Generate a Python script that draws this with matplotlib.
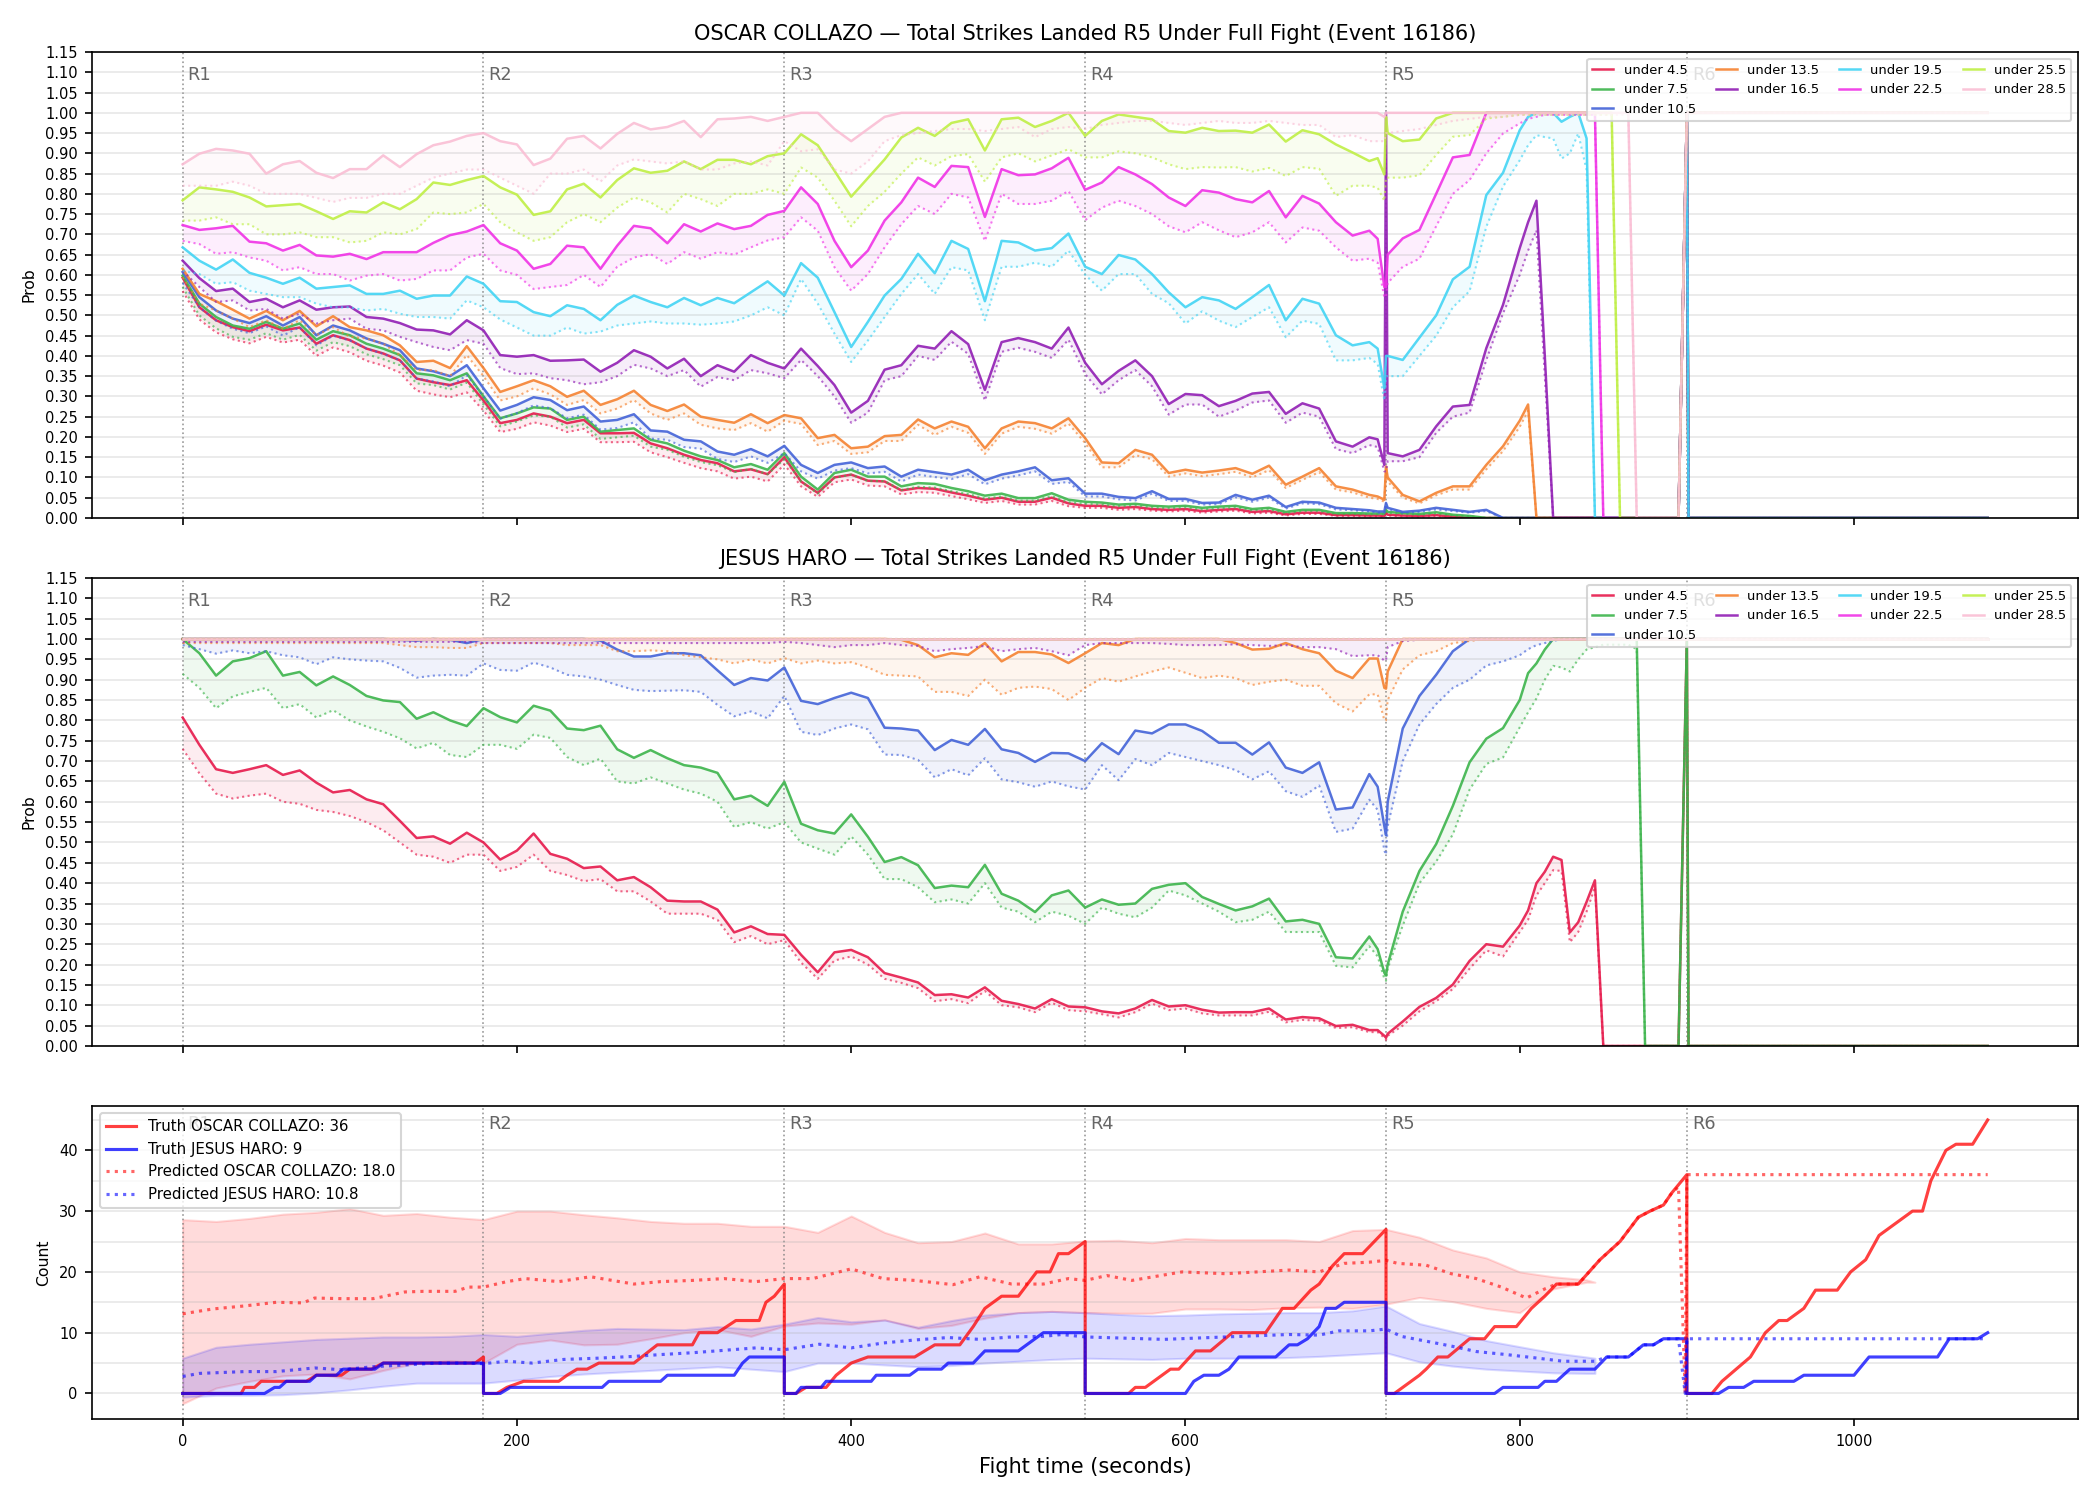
import numpy as np
import matplotlib.pyplot as plt
from matplotlib.ticker import MultipleLocator, FormatStrFormatter

# sample times (s) shared by the probability curves
T_GRID = (list(range(0, 701, 10)) + [710, 715, 719, 720, 721]
          + list(range(730, 801, 10)) + list(range(805, 896, 5)) + [900, 901, 1080])

LINE_NAMES = ["under 4.5", "under 7.5", "under 10.5", "under 13.5", "under 16.5",
              "under 19.5", "under 22.5", "under 25.5", "under 28.5"]
LINE_COLORS = ["#e6194b", "#3cb44b", "#4363d8", "#f58231", "#911eb4",
               "#42d4f4", "#f032e6", "#bfef45", "#fabed4"]
ROUND_STARTS = [0, 180, 360, 540, 720, 900]
ROUND_LABELS = ["R1", "R2", "R3", "R4", "R5", "R6"]

# ---------------- OSCAR COLLAZO (top panel) ----------------
OC_45 = [0.593, 0.52, 0.488, 0.471, 0.461, 0.477, 0.463, 0.47, 0.43, 0.451, 0.439, 0.418, 0.406, 0.389, 0.344, 0.335, 0.328, 0.34,
         0.29, 0.234, 0.242, 0.258, 0.25, 0.234, 0.242, 0.209, 0.209, 0.21, 0.184, 0.172, 0.156, 0.143, 0.135, 0.115, 0.12, 0.108,
         0.15, 0.09, 0.062, 0.10, 0.107, 0.092, 0.09, 0.068, 0.074, 0.072, 0.063, 0.055, 0.045, 0.05, 0.04, 0.04, 0.05, 0.036,
         0.03, 0.03, 0.025, 0.027, 0.022, 0.02, 0.022, 0.017, 0.02, 0.022, 0.015, 0.017, 0.009, 0.013, 0.013, 0.007, 0.007,
         0.006, 0.006, 0.005, 0.012, 0.008,
         0.006, 0.005, 0.007, 0.003, 0, 0, 0, 0,
         0, 0, 0, 0, 0, 0, 0, 0, 0, 0, 0, 0, 0, 0, 0, 0, 0, 0, 0,
         1.0, 0, 0]
OC_45_LO = [0.56, 0.49, 0.458, 0.441, 0.431, 0.447, 0.433, 0.44, 0.40, 0.421, 0.409, 0.388, 0.376, 0.359, 0.314, 0.305, 0.298, 0.31,
            0.265, 0.212, 0.22, 0.236, 0.228, 0.212, 0.22, 0.187, 0.187, 0.188, 0.162, 0.15, 0.136, 0.123, 0.115, 0.097, 0.102, 0.09,
            0.132, 0.078, 0.052, 0.088, 0.095, 0.08, 0.078, 0.058, 0.064, 0.062, 0.054, 0.046, 0.037, 0.042, 0.033, 0.033, 0.042, 0.029,
            0.025, 0.025, 0.02, 0.022, 0.018, 0.016, 0.018, 0.013, 0.016, 0.018, 0.011, 0.013, 0.006, 0.01, 0.01, 0.005, 0.005,
            0.004, 0.004, 0.003, 0.01, 0.006,
            0.004, 0.003, 0.005, 0.002, 0, 0, 0, 0,
            0, 0, 0, 0, 0, 0, 0, 0, 0, 0, 0, 0, 0, 0, 0, 0, 0, 0, 0,
            1.0, 0, 0]
OC_75 = [0.598, 0.529, 0.496, 0.475, 0.467, 0.484, 0.467, 0.48, 0.44, 0.461, 0.451, 0.43, 0.418, 0.402, 0.357, 0.352, 0.34, 0.357,
         0.30, 0.246, 0.258, 0.273, 0.27, 0.242, 0.25, 0.213, 0.217, 0.221, 0.193, 0.184, 0.166, 0.152, 0.143, 0.125, 0.133, 0.119,
         0.16, 0.102, 0.07, 0.111, 0.119, 0.102, 0.102, 0.078, 0.086, 0.084, 0.074, 0.066, 0.055, 0.06, 0.049, 0.049, 0.061, 0.045,
         0.04, 0.038, 0.033, 0.035, 0.03, 0.028, 0.03, 0.025, 0.028, 0.03, 0.022, 0.025, 0.015, 0.02, 0.02, 0.012, 0.012,
         0.011, 0.011, 0.011, 0.02, 0.015,
         0.012, 0.01, 0.014, 0.008, 0.005, 0, 0, 0,
         0, 0, 0, 0, 0, 0, 0, 0, 0, 0, 0, 0, 0, 0, 0, 0, 0, 0, 0,
         1.0, 0, 0]
OC_75_LO = [0.57, 0.50, 0.468, 0.447, 0.44, 0.456, 0.44, 0.452, 0.413, 0.434, 0.424, 0.404, 0.392, 0.377, 0.332, 0.328, 0.317, 0.334,
            0.28, 0.226, 0.238, 0.253, 0.25, 0.223, 0.231, 0.195, 0.199, 0.203, 0.176, 0.168, 0.151, 0.138, 0.13, 0.113, 0.121, 0.108,
            0.145, 0.09, 0.06, 0.099, 0.107, 0.091, 0.091, 0.069, 0.077, 0.075, 0.066, 0.059, 0.048, 0.053, 0.043, 0.043, 0.054, 0.039,
            0.035, 0.033, 0.029, 0.031, 0.026, 0.024, 0.026, 0.021, 0.024, 0.026, 0.019, 0.021, 0.012, 0.017, 0.017, 0.01, 0.01,
            0.009, 0.009, 0.009, 0.017, 0.012,
            0.01, 0.008, 0.011, 0.006, 0.004, 0, 0, 0,
            0, 0, 0, 0, 0, 0, 0, 0, 0, 0, 0, 0, 0, 0, 0, 0, 0, 0, 0,
            1.0, 0, 0]
OC_105 = [0.607, 0.545, 0.512, 0.492, 0.481, 0.498, 0.475, 0.496, 0.451, 0.475, 0.463, 0.443, 0.43, 0.414, 0.369, 0.362, 0.35, 0.377,
          0.32, 0.265, 0.279, 0.298, 0.291, 0.266, 0.275, 0.238, 0.242, 0.256, 0.216, 0.213, 0.193, 0.189, 0.164, 0.156, 0.17, 0.152,
          0.178, 0.131, 0.111, 0.131, 0.137, 0.123, 0.127, 0.102, 0.119, 0.113, 0.107, 0.119, 0.093, 0.107, 0.115, 0.125, 0.093, 0.098,
          0.06, 0.06, 0.052, 0.049, 0.066, 0.047, 0.047, 0.037, 0.038, 0.057, 0.045, 0.055, 0.027, 0.04, 0.038, 0.025, 0.022,
          0.019, 0.016, 0.016, 0.037, 0.025,
          0.015, 0.018, 0.025, 0.02, 0.015, 0.02, 0, 0,
          0, 0, 0, 0, 0, 0, 0, 0, 0, 0, 0, 0, 0, 0, 0, 0, 0, 0, 0,
          1.0, 0, 0]
OC_105_LO = [0.58, 0.52, 0.487, 0.467, 0.456, 0.473, 0.45, 0.471, 0.426, 0.45, 0.438, 0.418, 0.405, 0.389, 0.344, 0.337, 0.325, 0.352,
             0.30, 0.245, 0.259, 0.278, 0.271, 0.246, 0.255, 0.218, 0.222, 0.236, 0.196, 0.193, 0.175, 0.171, 0.146, 0.138, 0.152, 0.136,
             0.16, 0.115, 0.097, 0.117, 0.123, 0.11, 0.114, 0.09, 0.107, 0.101, 0.096, 0.108, 0.083, 0.097, 0.105, 0.115, 0.084, 0.089,
             0.053, 0.053, 0.046, 0.043, 0.06, 0.042, 0.042, 0.033, 0.034, 0.051, 0.04, 0.05, 0.023, 0.036, 0.034, 0.021, 0.019,
             0.016, 0.013, 0.013, 0.033, 0.022,
             0.013, 0.015, 0.021, 0.017, 0.013, 0.017, 0, 0,
             0, 0, 0, 0, 0, 0, 0, 0, 0, 0, 0, 0, 0, 0, 0, 0, 0, 0, 0,
             1.0, 0, 0]
OC_135 = [0.615, 0.553, 0.535, 0.514, 0.492, 0.511, 0.488, 0.511, 0.473, 0.498, 0.471, 0.463, 0.451, 0.426, 0.385, 0.388, 0.37, 0.424,
          0.37, 0.311, 0.325, 0.34, 0.325, 0.299, 0.314, 0.279, 0.293, 0.314, 0.279, 0.264, 0.28, 0.25, 0.242, 0.235, 0.256, 0.234,
          0.254, 0.246, 0.197, 0.205, 0.172, 0.176, 0.202, 0.205, 0.243, 0.221, 0.238, 0.225, 0.172, 0.221, 0.238, 0.234, 0.221, 0.246,
          0.197, 0.137, 0.135, 0.168, 0.156, 0.111, 0.119, 0.112, 0.117, 0.123, 0.109, 0.129, 0.082, 0.102, 0.123, 0.078, 0.07,
          0.057, 0.053, 0.045, 0.127, 0.10,
          0.057, 0.041, 0.062, 0.078, 0.078, 0.131, 0.177, 0.24,
          0.28, 0, 0, 0, 0, 0, 0, 0, 0, 0, 0, 0, 0, 0, 0, 0, 0, 0, 0,
          1.0, 0, 0]
OC_135_LO = [0.594, 0.529, 0.512, 0.492, 0.471, 0.488, 0.467, 0.488, 0.451, 0.471, 0.447, 0.443, 0.43, 0.402, 0.365, 0.365, 0.35, 0.402,
             0.35, 0.29, 0.30, 0.32, 0.305, 0.279, 0.291, 0.258, 0.27, 0.291, 0.258, 0.242, 0.258, 0.23, 0.221, 0.217, 0.234, 0.213,
             0.24, 0.232, 0.18, 0.19, 0.158, 0.162, 0.19, 0.19, 0.23, 0.205, 0.225, 0.21, 0.158, 0.208, 0.225, 0.22, 0.208, 0.233,
             0.185, 0.125, 0.125, 0.155, 0.145, 0.102, 0.11, 0.103, 0.108, 0.114, 0.10, 0.118, 0.074, 0.094, 0.113, 0.07, 0.063,
             0.05, 0.047, 0.04, 0.12, 0.09,
             0.05, 0.036, 0.056, 0.07, 0.07, 0.12, 0.165, 0.225,
             0.265, 0, 0, 0, 0, 0, 0, 0, 0, 0, 0, 0, 0, 0, 0, 0, 0, 0, 0,
             1.0, 0, 0]
OC_165 = [0.635, 0.592, 0.56, 0.566, 0.533, 0.541, 0.52, 0.537, 0.514, 0.52, 0.522, 0.496, 0.492, 0.481, 0.465, 0.463, 0.453, 0.488,
          0.463, 0.402, 0.398, 0.402, 0.388, 0.389, 0.391, 0.361, 0.383, 0.414, 0.398, 0.369, 0.393, 0.35, 0.377, 0.361, 0.402, 0.383,
          0.369, 0.418, 0.375, 0.328, 0.26, 0.289, 0.366, 0.377, 0.425, 0.418, 0.461, 0.429, 0.316, 0.434, 0.444, 0.434, 0.418, 0.47,
          0.383, 0.33, 0.363, 0.389, 0.35, 0.281, 0.306, 0.303, 0.276, 0.289, 0.307, 0.311, 0.257, 0.283, 0.27, 0.189, 0.176,
          0.199, 0.194, 0.131, 1.0, 0.16,
          0.152, 0.168, 0.226, 0.275, 0.279, 0.419, 0.526, 0.666,
          0.73, 0.783, 0.4, 0, 0, 0, 0, 0, 0, 0, 0, 0, 0, 0, 0, 0, 0, 0, 0,
          1.0, 0, 0]
OC_165_LO = [0.61, 0.57, 0.533, 0.537, 0.512, 0.516, 0.492, 0.504, 0.48, 0.488, 0.492, 0.467, 0.463, 0.447, 0.434, 0.422, 0.414, 0.439,
             0.43, 0.37, 0.355, 0.357, 0.345, 0.34, 0.33, 0.335, 0.35, 0.378, 0.369, 0.35, 0.365, 0.324, 0.348, 0.34, 0.365, 0.357,
             0.345, 0.39, 0.35, 0.30, 0.235, 0.26, 0.34, 0.35, 0.40, 0.39, 0.435, 0.405, 0.29, 0.41, 0.42, 0.41, 0.395, 0.44,
             0.355, 0.305, 0.34, 0.365, 0.325, 0.255, 0.28, 0.28, 0.25, 0.265, 0.285, 0.29, 0.235, 0.26, 0.25, 0.17, 0.16,
             0.18, 0.175, 0.115, 0.115, 0.14,
             0.14, 0.15, 0.21, 0.25, 0.26, 0.39, 0.505, 0.60,
             0.66, 0.71, 0.35, 0, 0, 0, 0, 0, 0, 0, 0, 0, 0, 0, 0, 0, 0, 0, 0,
             1.0, 0, 0]
OC_195 = [0.668, 0.635, 0.613, 0.638, 0.605, 0.593, 0.578, 0.593, 0.566, 0.57, 0.574, 0.553, 0.553, 0.561, 0.541, 0.549, 0.549, 0.596,
          0.578, 0.535, 0.533, 0.508, 0.498, 0.525, 0.516, 0.488, 0.526, 0.549, 0.533, 0.52, 0.543, 0.525, 0.543, 0.53, 0.557, 0.584,
          0.549, 0.629, 0.593, 0.508, 0.422, 0.484, 0.549, 0.59, 0.652, 0.604, 0.684, 0.664, 0.535, 0.684, 0.68, 0.66, 0.666, 0.702,
          0.62, 0.602, 0.649, 0.638, 0.602, 0.557, 0.52, 0.545, 0.537, 0.516, 0.545, 0.575, 0.488, 0.541, 0.529, 0.451, 0.426,
          0.434, 0.418, 0.32, 0.40, 0.40,
          0.39, 0.445, 0.50, 0.589, 0.62, 0.797, 0.852, 0.957,
          0.99, 1.0, 1.0, 1.0, 0.978, 0.99, 1.0, 0.937, 0, 0, 0, 0, 0, 0, 0, 0, 0, 0, 0,
          1.0, 0, 0]
OC_195_LO = [0.61, 0.602, 0.578, 0.582, 0.561, 0.553, 0.545, 0.545, 0.529, 0.52, 0.52, 0.512, 0.516, 0.504, 0.496, 0.496, 0.492, 0.537,
             0.52, 0.49, 0.47, 0.45, 0.45, 0.47, 0.455, 0.46, 0.475, 0.48, 0.485, 0.48, 0.48, 0.477, 0.48, 0.485, 0.50, 0.52,
             0.50, 0.59, 0.529, 0.455, 0.385, 0.438, 0.496, 0.553, 0.602, 0.553, 0.619, 0.611, 0.488, 0.62, 0.62, 0.63, 0.62, 0.66,
             0.60, 0.561, 0.602, 0.602, 0.553, 0.53, 0.48, 0.51, 0.487, 0.471, 0.496, 0.52, 0.446, 0.487, 0.479, 0.389, 0.389,
             0.395, 0.38, 0.29, 0.35, 0.35,
             0.35, 0.40, 0.45, 0.52, 0.56, 0.719, 0.818, 0.883,
             0.92, 0.945, 0.94, 0.937, 0.887, 0.90, 0.949, 0.859, 0, 0, 0, 0, 0, 0, 0, 0, 0, 0, 0,
             1.0, 0, 0]
OC_225 = [0.723, 0.711, 0.715, 0.721, 0.682, 0.678, 0.66, 0.674, 0.648, 0.645, 0.652, 0.639, 0.656, 0.656, 0.656, 0.679, 0.698, 0.707,
          0.723, 0.678, 0.66, 0.615, 0.627, 0.672, 0.668, 0.615, 0.672, 0.721, 0.715, 0.678, 0.725, 0.707, 0.727, 0.713, 0.721, 0.748,
          0.758, 0.816, 0.775, 0.684, 0.619, 0.66, 0.734, 0.779, 0.84, 0.817, 0.869, 0.866, 0.743, 0.861, 0.846, 0.848, 0.863, 0.889,
          0.81, 0.828, 0.866, 0.848, 0.824, 0.791, 0.77, 0.809, 0.803, 0.787, 0.779, 0.807, 0.742, 0.795, 0.776, 0.73, 0.697,
          0.709, 0.689, 0.57, 0.57, 0.65,
          0.69, 0.711, 0.80, 0.89, 0.896, 1.0, 1.0, 1.0,
          1.0, 1.0, 1.0, 1.0, 1.0, 1.0, 1.0, 1.0, 1.0, 0, 0, 0, 0, 0, 0, 0, 0, 0, 0,
          1.0, 1.0, 1.0]
OC_225_LO = [0.684, 0.676, 0.652, 0.656, 0.643, 0.635, 0.611, 0.619, 0.602, 0.602, 0.586, 0.598, 0.602, 0.586, 0.59, 0.611, 0.611, 0.643,
             0.652, 0.611, 0.60, 0.565, 0.57, 0.575, 0.60, 0.57, 0.62, 0.643, 0.651, 0.627, 0.656, 0.64, 0.656, 0.65, 0.668, 0.685,
             0.693, 0.742, 0.709, 0.619, 0.561, 0.602, 0.668, 0.725, 0.77, 0.75, 0.80, 0.791, 0.684, 0.80, 0.775, 0.775, 0.783, 0.807,
             0.735, 0.766, 0.783, 0.77, 0.75, 0.72, 0.705, 0.73, 0.71, 0.693, 0.705, 0.73, 0.68, 0.717, 0.709, 0.668, 0.635,
             0.64, 0.63, 0.545, 0.545, 0.58,
             0.62, 0.64, 0.72, 0.80, 0.834, 0.90, 0.949, 0.974,
             0.985, 0.99, 0.995, 0.995, 0.995, 0.995, 0.995, 0.995, 0.995, 0, 0, 0, 0, 0, 0, 0, 0, 0, 0,
             1.0, 1.0, 1.0]
OC_255 = [0.784, 0.816, 0.811, 0.805, 0.791, 0.769, 0.772, 0.775, 0.757, 0.738, 0.757, 0.754, 0.779, 0.762, 0.787, 0.828, 0.822, 0.834,
          0.844, 0.816, 0.798, 0.748, 0.757, 0.811, 0.825, 0.791, 0.834, 0.863, 0.852, 0.857, 0.88, 0.861, 0.884, 0.884, 0.873, 0.893,
          0.90, 0.947, 0.92, 0.857, 0.793, 0.839, 0.885, 0.939, 0.963, 0.943, 0.975, 0.984, 0.907, 0.984, 0.988, 0.965, 0.98, 1.0,
          0.943, 0.98, 0.996, 0.99, 0.984, 0.955, 0.951, 0.963, 0.955, 0.956, 0.951, 0.971, 0.929, 0.957, 0.947, 0.922, 0.902,
          0.881, 0.888, 0.848, 0.99, 0.95,
          0.93, 0.934, 0.986, 1.0, 1.0, 1.0, 1.0, 1.0,
          1.0, 1.0, 1.0, 1.0, 1.0, 1.0, 1.0, 1.0, 1.0, 1.0, 1.0, 0, 0, 0, 0, 0, 0, 0, 0,
          1.0, 1.0, 1.0]
OC_255_LO = [0.734, 0.734, 0.742, 0.725, 0.725, 0.70, 0.70, 0.705, 0.693, 0.693, 0.68, 0.684, 0.705, 0.70, 0.713, 0.754, 0.75, 0.754,
             0.775, 0.73, 0.705, 0.684, 0.693, 0.73, 0.75, 0.73, 0.766, 0.791, 0.779, 0.754, 0.80, 0.787, 0.77, 0.80, 0.80, 0.811,
             0.80, 0.865, 0.84, 0.783, 0.72, 0.77, 0.805, 0.85, 0.89, 0.87, 0.893, 0.898, 0.83, 0.89, 0.90, 0.88, 0.895, 0.91,
             0.89, 0.89, 0.905, 0.90, 0.89, 0.873, 0.861, 0.866, 0.865, 0.866, 0.855, 0.864, 0.844, 0.866, 0.862, 0.795, 0.82,
             0.82, 0.815, 0.783, 0.84, 0.84,
             0.84, 0.846, 0.896, 0.941, 0.945, 0.986, 0.99, 0.995,
             0.995, 0.995, 0.995, 0.995, 0.995, 0.995, 0.995, 0.995, 0.995, 0.995, 0.995, 0, 0, 0, 0, 0, 0, 0, 0,
             1.0, 1.0, 1.0]
OC_285 = [0.873, 0.899, 0.911, 0.907, 0.899, 0.85, 0.873, 0.881, 0.852, 0.839, 0.861, 0.861, 0.895, 0.866, 0.898, 0.92, 0.929, 0.943,
          0.95, 0.93, 0.922, 0.871, 0.887, 0.936, 0.943, 0.912, 0.948, 0.975, 0.959, 0.965, 0.98, 0.94, 0.984, 0.986, 0.99, 0.98,
          0.99, 1.0, 1.0, 0.96, 0.93, 0.96, 0.99, 1.0, 1.0, 1.0, 1.0, 1.0, 1.0, 1.0, 1.0, 1.0, 1.0, 1.0,
          1.0, 1.0, 1.0, 1.0, 1.0, 1.0, 1.0, 1.0, 1.0, 1.0, 1.0, 1.0, 1.0, 1.0, 1.0, 1.0, 1.0,
          1.0, 1.0, 0.99, 1.0, 1.0,
          1.0, 1.0, 1.0, 1.0, 1.0, 1.0, 1.0, 1.0,
          1.0, 1.0, 1.0, 1.0, 1.0, 1.0, 1.0, 1.0, 1.0, 1.0, 1.0, 1.0, 1.0, 0, 0, 0, 0, 0, 0,
          1.0, 1.0, 1.0]
OC_285_LO = [0.82, 0.82, 0.82, 0.83, 0.82, 0.80, 0.80, 0.80, 0.79, 0.78, 0.79, 0.79, 0.80, 0.80, 0.82, 0.84, 0.85, 0.86,
             0.86, 0.84, 0.82, 0.80, 0.85, 0.85, 0.86, 0.83, 0.87, 0.885, 0.88, 0.875, 0.88, 0.86, 0.86, 0.875, 0.88, 0.87,
             0.93, 0.905, 0.91, 0.86, 0.85, 0.88, 0.93, 0.945, 0.95, 0.955, 0.96, 0.96, 0.955, 0.96, 0.965, 0.94, 0.96, 0.965,
             0.96, 0.97, 0.975, 0.98, 0.98, 0.975, 0.97, 0.975, 0.98, 0.975, 0.975, 0.98, 0.975, 0.97, 0.97, 0.94, 0.945,
             0.93, 0.93, 0.93, 0.95, 0.95,
             0.955, 0.96, 0.97, 0.98, 0.985, 0.99, 0.99, 0.995,
             0.995, 0.995, 0.995, 0.995, 0.995, 0.995, 0.995, 0.995, 0.995, 0.995, 0.995, 0.995, 0.995, 0, 0, 0, 0, 0, 0,
             1.0, 1.0, 1.0]

# ---------------- JESUS HARO (middle panel) ----------------
JH_45 = [0.807, 0.74, 0.68, 0.671, 0.68, 0.69, 0.666, 0.677, 0.647, 0.623, 0.629, 0.606, 0.594, 0.553, 0.511, 0.515, 0.497, 0.524,
         0.50, 0.458, 0.48, 0.522, 0.472, 0.46, 0.437, 0.441, 0.407, 0.415, 0.39, 0.357, 0.355, 0.355, 0.335, 0.279, 0.294, 0.275,
         0.273, 0.224, 0.181, 0.23, 0.236, 0.218, 0.179, 0.168, 0.156, 0.125, 0.127, 0.119, 0.144, 0.111, 0.103, 0.092, 0.115, 0.097,
         0.095, 0.085, 0.08, 0.092, 0.113, 0.097, 0.10, 0.089, 0.082, 0.083, 0.083, 0.092, 0.065, 0.071, 0.068, 0.049, 0.052,
         0.039, 0.039, 0.025, 0.02, 0.03,
         0.06, 0.096, 0.118, 0.151, 0.209, 0.25, 0.244, 0.296,
         0.333, 0.40, 0.428, 0.465, 0.457, 0.279, 0.304, 0.354, 0.407, 0, 0, 0, 0, 0, 0, 0, 0, 0, 0,
         1.0, 0, 0]
JH_45_LO = [0.73, 0.67, 0.62, 0.608, 0.615, 0.62, 0.60, 0.595, 0.58, 0.575, 0.565, 0.55, 0.53, 0.50, 0.47, 0.465, 0.45, 0.47,
            0.47, 0.43, 0.44, 0.47, 0.43, 0.42, 0.405, 0.41, 0.38, 0.38, 0.355, 0.325, 0.325, 0.325, 0.31, 0.255, 0.27, 0.25,
            0.26, 0.205, 0.165, 0.21, 0.22, 0.20, 0.165, 0.155, 0.142, 0.11, 0.115, 0.105, 0.135, 0.10, 0.095, 0.083, 0.106, 0.088,
            0.085, 0.078, 0.07, 0.083, 0.104, 0.088, 0.092, 0.08, 0.075, 0.075, 0.075, 0.084, 0.058, 0.064, 0.062, 0.044, 0.046,
            0.034, 0.034, 0.02, 0.015, 0.025,
            0.05, 0.085, 0.11, 0.14, 0.19, 0.235, 0.22, 0.28,
            0.31, 0.37, 0.40, 0.432, 0.43, 0.255, 0.28, 0.33, 0.39, 0, 0, 0, 0, 0, 0, 0, 0, 0, 0,
            1.0, 0, 0]
JH_75 = [1.0, 0.965, 0.91, 0.945, 0.953, 0.97, 0.91, 0.919, 0.886, 0.908, 0.887, 0.86, 0.849, 0.845, 0.804, 0.82, 0.80, 0.786,
         0.83, 0.808, 0.795, 0.836, 0.824, 0.78, 0.776, 0.787, 0.729, 0.708, 0.727, 0.707, 0.69, 0.684, 0.671, 0.606, 0.615, 0.59,
         0.649, 0.546, 0.53, 0.522, 0.569, 0.514, 0.452, 0.464, 0.444, 0.388, 0.394, 0.39, 0.445, 0.374, 0.357, 0.329, 0.37, 0.382,
         0.34, 0.36, 0.347, 0.35, 0.386, 0.396, 0.40, 0.366, 0.349, 0.333, 0.343, 0.362, 0.306, 0.31, 0.30, 0.218, 0.215,
         0.269, 0.238, 0.18, 0.173, 0.20,
         0.33, 0.43, 0.496, 0.59, 0.697, 0.755, 0.781, 0.85,
         0.916, 0.94, 0.974, 1.0, 1.0, 1.0, 1.0, 1.0, 1.0, 1.0, 1.0, 1.0, 1.0, 1.0, 0, 0, 0, 0, 0,
         1.0, 0, 0]
JH_75_LO = [0.914, 0.88, 0.83, 0.859, 0.87, 0.88, 0.83, 0.84, 0.807, 0.825, 0.80, 0.785, 0.772, 0.756, 0.731, 0.745, 0.715, 0.71,
            0.74, 0.74, 0.73, 0.765, 0.757, 0.71, 0.69, 0.706, 0.65, 0.645, 0.66, 0.645, 0.63, 0.62, 0.60, 0.538, 0.55, 0.534,
            0.55, 0.50, 0.485, 0.47, 0.515, 0.47, 0.41, 0.41, 0.39, 0.353, 0.36, 0.35, 0.40, 0.34, 0.33, 0.304, 0.33, 0.32,
            0.30, 0.34, 0.325, 0.316, 0.34, 0.382, 0.37, 0.35, 0.33, 0.304, 0.31, 0.33, 0.28, 0.28, 0.28, 0.197, 0.193,
            0.245, 0.22, 0.165, 0.16, 0.19,
            0.296, 0.40, 0.453, 0.52, 0.63, 0.693, 0.709, 0.783,
            0.82, 0.854, 0.90, 0.934, 0.93, 0.92, 0.95, 0.974, 0.98, 0.986, 0.986, 0.986, 0.986, 0.975, 0, 0, 0, 0, 0,
            1.0, 0, 0]
JH_105 = [1.0, 1.0, 1.0, 1.0, 1.0, 1.0, 1.0, 1.0, 1.0, 1.0, 1.0, 1.0, 1.0, 0.998, 0.996, 1.0, 0.998, 0.99,
          1.0, 1.0, 1.0, 1.0, 1.0, 1.0, 1.0, 0.996, 0.974, 0.957, 0.957, 0.965, 0.965, 0.96, 0.923, 0.887, 0.904, 0.898,
          0.93, 0.848, 0.84, 0.855, 0.868, 0.855, 0.782, 0.78, 0.775, 0.727, 0.752, 0.74, 0.779, 0.729, 0.72, 0.698, 0.72, 0.719,
          0.70, 0.744, 0.717, 0.775, 0.768, 0.79, 0.79, 0.774, 0.745, 0.745, 0.716, 0.746, 0.684, 0.671, 0.697, 0.581, 0.586,
          0.668, 0.637, 0.54, 0.518, 0.60,
          0.78, 0.86, 0.912, 0.97, 1.0, 1.0, 1.0, 1.0,
          1.0, 1.0, 1.0, 1.0, 1.0, 1.0, 1.0, 1.0, 1.0, 1.0, 1.0, 1.0, 1.0, 1.0, 1.0, 1.0, 1.0, 1.0, 1.0,
          1.0, 1.0, 1.0]
JH_105_LO = [0.985, 0.975, 0.964, 0.972, 0.965, 0.97, 0.96, 0.955, 0.938, 0.955, 0.95, 0.947, 0.945, 0.929, 0.905, 0.91, 0.912, 0.91,
             0.94, 0.924, 0.922, 0.942, 0.93, 0.912, 0.908, 0.90, 0.887, 0.875, 0.872, 0.873, 0.874, 0.87, 0.838, 0.81, 0.822, 0.805,
             0.86, 0.772, 0.764, 0.78, 0.79, 0.778, 0.716, 0.715, 0.703, 0.66, 0.68, 0.665, 0.707, 0.655, 0.648, 0.637, 0.65, 0.638,
             0.63, 0.69, 0.653, 0.705, 0.69, 0.72, 0.71, 0.70, 0.69, 0.678, 0.655, 0.675, 0.626, 0.612, 0.64, 0.526, 0.534,
             0.605, 0.58, 0.48, 0.47, 0.54,
             0.70, 0.79, 0.84, 0.88, 0.90, 0.935, 0.945, 0.96,
             0.975, 0.985, 0.99, 0.995, 1.0, 1.0, 1.0, 1.0, 1.0, 1.0, 1.0, 1.0, 1.0, 1.0, 1.0, 1.0, 1.0, 1.0, 1.0,
             1.0, 1.0, 1.0]
JH_135 = [1.0, 1.0, 1.0, 1.0, 1.0, 1.0, 1.0, 1.0, 1.0, 1.0, 1.0, 1.0, 1.0, 1.0, 1.0, 1.0, 1.0, 1.0,
          1.0, 1.0, 1.0, 1.0, 1.0, 1.0, 1.0, 1.0, 1.0, 1.0, 1.0, 1.0, 1.0, 1.0, 1.0, 1.0, 1.0, 1.0,
          1.0, 1.0, 1.0, 1.0, 1.0, 1.0, 1.0, 0.998, 0.985, 0.955, 0.965, 0.961, 0.99, 0.945, 0.968, 0.968, 0.962, 0.941,
          0.965, 0.99, 0.985, 1.0, 1.0, 1.0, 1.0, 1.0, 1.0, 0.99, 0.974, 0.976, 0.99, 0.975, 0.965, 0.922, 0.904,
          0.952, 0.952, 0.88, 0.878, 0.92,
          1.0, 1.0, 1.0, 1.0, 1.0, 1.0, 1.0, 1.0,
          1.0, 1.0, 1.0, 1.0, 1.0, 1.0, 1.0, 1.0, 1.0, 1.0, 1.0, 1.0, 1.0, 1.0, 1.0, 1.0, 1.0, 1.0, 1.0,
          1.0, 1.0, 1.0]
JH_135_LO = [0.99, 0.99, 0.99, 0.99, 0.99, 0.99, 0.99, 0.99, 0.99, 0.99, 0.99, 0.99, 0.99, 0.985, 0.98, 0.98, 0.978, 0.978,
             0.99, 0.99, 0.99, 0.99, 0.99, 0.985, 0.985, 0.985, 0.97, 0.97, 0.972, 0.97, 0.96, 0.955, 0.95, 0.94, 0.95, 0.94,
             0.953, 0.94, 0.947, 0.94, 0.943, 0.93, 0.912, 0.91, 0.908, 0.87, 0.87, 0.86, 0.90, 0.863, 0.88, 0.883, 0.877, 0.85,
             0.88, 0.904, 0.895, 0.908, 0.92, 0.93, 0.917, 0.904, 0.91, 0.904, 0.887, 0.895, 0.90, 0.885, 0.885, 0.842, 0.822,
             0.864, 0.864, 0.80, 0.80, 0.85,
             0.925, 0.96, 0.97, 0.99, 0.995, 1.0, 1.0, 1.0,
             1.0, 1.0, 1.0, 1.0, 1.0, 1.0, 1.0, 1.0, 1.0, 1.0, 1.0, 1.0, 1.0, 1.0, 1.0, 1.0, 1.0, 1.0, 1.0,
             1.0, 1.0, 1.0]
JH_165_LO = [0.993, 0.993, 0.993, 0.993, 0.993, 0.993, 0.993, 0.993, 0.993, 0.993, 0.993, 0.993, 0.993, 0.993, 0.993, 0.993, 0.993, 0.993,
             0.99, 0.99, 0.99, 0.99, 0.99, 0.99, 0.99, 0.99, 0.99, 0.99, 0.99, 0.99, 0.99, 0.99, 0.99, 0.99, 0.99, 0.99,
             0.993, 0.99, 0.985, 0.98, 0.985, 0.985, 0.99, 0.985, 0.983, 0.97, 0.975, 0.978, 0.983, 0.97, 0.975, 0.978, 0.97, 0.96,
             0.985, 0.99, 0.99, 0.99, 0.99, 0.988, 0.985, 0.985, 0.985, 0.987, 0.985, 0.983, 0.985, 0.98, 0.98, 0.975, 0.958,
             0.96, 0.96, 0.947, 0.947, 0.98,
             0.995, 0.998, 1.0, 1.0, 1.0, 1.0, 1.0, 1.0,
             1.0, 1.0, 1.0, 1.0, 1.0, 1.0, 1.0, 1.0, 1.0, 1.0, 1.0, 1.0, 1.0, 1.0, 1.0, 1.0, 1.0, 1.0, 1.0,
             1.0, 1.0, 1.0]
# lines that sit at 1.0 for the whole fight
JH_FLAT_T = [0, 1080]
JH_FLAT_V = [1.0, 1.0]

# ---------------- bottom panel: counts ----------------
TRUTH_OSCAR = [(0, 0), (35, 0), (37, 1), (43, 1), (47, 2), (74, 2), (80, 3), (95, 3), (100, 4), (113, 4), (120, 5), (175, 5), (180, 6),
               (180, 0), (188, 0), (194, 1), (204, 2), (225, 2), (230, 3), (236, 4), (242, 4), (249, 5), (270, 5), (284, 8),
               (305, 8), (309, 10), (320, 10), (331, 12), (345, 12), (349, 15), (354, 16), (360, 18),
               (360, 0), (367, 0), (373, 1), (385, 1), (391, 3), (400, 5), (410, 6), (438, 6), (450, 8), (465, 8), (473, 11),
               (480, 14), (490, 16), (500, 16), (511, 20), (519, 20), (524, 23), (530, 23), (540, 25),
               (540, 0), (566, 0), (570, 1), (576, 1), (591, 4), (596, 4), (606, 7), (615, 7), (628, 10), (648, 10), (658, 14),
               (665, 14), (675, 17), (680, 18), (688, 21), (695, 23), (706, 23), (720, 27),
               (720, 0), (725, 0), (730, 1), (735, 2), (740, 3), (744, 4), (751, 6), (757, 6), (770, 9), (779, 9), (785, 11),
               (798, 11), (807, 14), (815, 16), (822, 18), (835, 18), (848, 22), (860, 25), (871, 29), (878, 30), (886, 31),
               (891, 33), (900, 36),
               (900, 0), (915, 0), (921, 2), (938, 6), (947, 10), (955, 12), (960, 12), (970, 14), (977, 17), (990, 17),
               (998, 20), (1007, 22), (1015, 26), (1035, 30), (1041, 30), (1046, 35), (1055, 40), (1061, 41), (1071, 41), (1080, 45)]
TRUTH_HARO = [(0, 0), (49, 0), (55, 1), (58, 1), (62, 2), (76, 2), (80, 3), (92, 3), (96, 4), (115, 4), (120, 5), (180, 5),
              (180, 0), (190, 0), (196, 1), (251, 1), (255, 2), (286, 2), (290, 3), (330, 3), (335, 5), (339, 6), (360, 6),
              (360, 0), (367, 0), (370, 1), (382, 1), (385, 2), (412, 2), (415, 3), (435, 3), (440, 4), (454, 4), (458, 5),
              (473, 5), (480, 7), (500, 7), (515, 10), (540, 10),
              (540, 0), (600, 0), (605, 2), (611, 3), (620, 3), (626, 4), (632, 6), (654, 6), (662, 8), (667, 8), (673, 9),
              (680, 11), (684, 14), (690, 14), (695, 15), (720, 15),
              (720, 0), (785, 0), (790, 1), (811, 1), (815, 2), (822, 2), (830, 4), (845, 4), (852, 6), (865, 6), (874, 8),
              (880, 8), (886, 9), (900, 9),
              (900, 0), (919, 0), (925, 1), (934, 1), (940, 2), (964, 2), (970, 3), (1000, 3), (1009, 6), (1050, 6),
              (1057, 9), (1074, 9), (1080, 10)]
PRED_OSCAR = [(0, 13.1), (18, 13.9), (37, 14.4), (56, 15.0), (72, 14.9), (79, 15.7), (95, 15.6), (114, 15.6), (133, 16.7),
              (144, 16.8), (163, 16.8), (171, 17.5), (180, 17.5), (194, 18.4), (205, 18.9), (225, 18.4), (244, 19.2),
              (270, 18.0), (286, 18.4), (305, 18.6), (324, 18.9), (343, 18.4), (360, 18.9), (377, 18.9), (400, 20.5),
              (419, 18.9), (438, 18.6), (461, 17.9), (477, 19.2), (496, 18.0), (515, 18.0), (530, 18.9), (540, 18.6),
              (553, 19.4), (568, 18.6), (598, 20.0), (624, 19.7), (662, 20.3), (680, 20.0), (695, 21.4), (710, 21.6),
              (720, 21.9), (727, 21.4), (744, 21.1), (759, 19.7), (774, 18.9), (789, 17.5), (804, 15.7), (815, 17.2),
              (822, 18.0), (835, 18.0), (848, 22.0), (860, 25.0), (871, 29.0), (878, 30.0), (886, 31.0), (891, 33.0),
              (895, 34.0), (899, 0.0), (900, 36.0), (1080, 36.0)]
PRED_HARO = [(0, 2.8), (10, 3.3), (37, 3.6), (56, 3.6), (79, 4.2), (95, 3.9), (114, 4.4), (133, 4.7), (152, 5.0), (171, 5.0),
             (180, 4.9), (194, 5.3), (209, 5.0), (228, 5.6), (248, 5.8), (270, 6.1), (286, 6.4), (305, 6.7), (324, 7.1),
             (343, 7.5), (360, 7.2), (381, 8.1), (400, 7.5), (419, 8.3), (438, 8.8), (458, 9.2), (477, 8.9), (496, 9.3),
             (515, 9.4), (526, 9.7), (540, 9.3), (587, 8.9), (624, 9.3), (662, 9.7), (680, 9.6), (692, 10.3), (710, 10.3),
             (720, 10.6), (729, 9.4), (744, 8.6), (759, 7.8), (774, 6.9), (792, 6.4), (811, 5.8), (826, 5.3), (845, 5.3),
             (852, 6.0), (865, 6.0), (874, 8.0), (880, 8.0), (886, 9.0), (895, 9.0), (899, 0.0), (900, 9.0), (1080, 9.0)]
BAND_T = list(range(0, 841, 20)) + [845]
OSCAR_HI = [28.6, 28.3, 28.8, 29.5, 29.8, 30.4, 29.3, 29.6, 29.0, 28.6, 30.0, 30.0, 29.4, 28.9, 28.3, 28.0, 28.0, 27.5,
            27.5, 26.5, 29.2, 26.5, 24.8, 25.0, 26.4, 24.6, 24.6, 25.1, 25.2, 24.8, 25.5, 25.3, 25.3, 25.3, 25.0, 26.8,
            27.0, 25.7, 23.6, 22.3, 20.0, 19.2, 18.7, 18.3]
OSCAR_LO = [-1.7, 0.9, 2.0, 2.9, 3.2, 2.4, 3.8, 5.0, 5.4, 5.0, 8.1, 8.8, 8.0, 8.1, 9.0, 10.0, 10.5, 9.4,
            11.1, 11.6, 11.4, 12.1, 10.7, 11.2, 12.4, 13.3, 13.5, 13.3, 13.2, 13.2, 13.9, 13.9, 13.8, 14.1, 14.2, 14.0,
            14.7, 15.8, 15.1, 14.0, 13.3, 17.2, 18.3, 18.3]
HARO_HI = [5.8, 7.6, 8.1, 8.5, 8.9, 9.1, 9.3, 9.3, 9.4, 9.7, 9.4, 9.9, 10.4, 10.7, 10.6, 10.5, 11.0, 10.6,
           11.4, 12.5, 11.8, 12.1, 10.9, 12.0, 12.9, 13.3, 13.5, 13.3, 13.0, 12.8, 12.9, 13.1, 13.2, 13.3, 13.3, 13.6,
           14.4, 11.5, 10.2, 8.7, 7.7, 6.7, 6.0, 5.8]
HARO_LO = [-0.6, -0.3, -0.3, -0.2, 0.1, 0.6, 1.2, 1.7, 1.7, 1.7, 2.2, 2.8, 3.2, 3.5, 3.8, 4.1, 4.4, 4.0,
           3.6, 5.0, 5.0, 4.7, 4.4, 4.6, 5.0, 5.3, 5.6, 5.8, 5.7, 5.6, 5.8, 5.8, 5.8, 5.9, 6.1, 6.4,
           6.7, 5.2, 4.5, 4.0, 3.7, 3.4, 3.3, 3.3]


def round_markers(ax, top):
    for r, lab in zip(ROUND_STARTS, ROUND_LABELS):
        ax.axvline(r, color="gray", ls=":", lw=0.8, alpha=0.8, zorder=1)
        ax.text(r + 3, top * 0.97, lab, color="#555555", fontsize=8.5, va="top", ha="left", alpha=0.9)


def prob_panel(ax, series, title):
    for name, color, (ts, vs, td, vd) in zip(LINE_NAMES, LINE_COLORS, series):
        solid_on_dot = np.interp(td, ts, vs)
        ax.fill_between(td, solid_on_dot, vd, color=color, alpha=0.08, linewidth=0)
        ax.plot(td, vd, ":", color=color, lw=1.0, alpha=0.65)
        ax.plot(ts, vs, "-", color=color, lw=1.2, alpha=0.9, label=name)
    ax.set_ylim(0, 1.15)
    ax.yaxis.set_major_locator(MultipleLocator(0.05))
    ax.yaxis.set_major_formatter(FormatStrFormatter("%.2f"))
    ax.grid(axis="y", alpha=0.3)
    ax.set_ylabel("Prob", fontsize=7.5)
    ax.set_title(title, fontsize=10)
    ax.tick_params(labelsize=7, labelbottom=False)
    round_markers(ax, 1.15)
    ax.legend(loc="upper right", ncol=4, fontsize=6.3, columnspacing=1.5, handlelength=1.6)


fig = plt.figure(figsize=(14, 10), dpi=150)
ax1 = fig.add_axes([0.044, 0.6547, 0.9455, 0.3106])
ax2 = fig.add_axes([0.044, 0.3027, 0.9455, 0.312], sharex=ax1)
ax3 = fig.add_axes([0.044, 0.054, 0.9455, 0.2087], sharex=ax1)

top_series = [(T_GRID, s, T_GRID, lo) for s, lo in [
    (OC_45, OC_45_LO), (OC_75, OC_75_LO), (OC_105, OC_105_LO), (OC_135, OC_135_LO), (OC_165, OC_165_LO),
    (OC_195, OC_195_LO), (OC_225, OC_225_LO), (OC_255, OC_255_LO), (OC_285, OC_285_LO)]]
mid_series = [(T_GRID, JH_45, T_GRID, JH_45_LO), (T_GRID, JH_75, T_GRID, JH_75_LO),
              (T_GRID, JH_105, T_GRID, JH_105_LO), (T_GRID, JH_135, T_GRID, JH_135_LO),
              (JH_FLAT_T, JH_FLAT_V, T_GRID, JH_165_LO)] + \
             [(JH_FLAT_T, JH_FLAT_V, JH_FLAT_T, JH_FLAT_V)] * 4

prob_panel(ax1, top_series, "OSCAR COLLAZO \u2014 Total Strikes Landed R5 Under Full Fight (Event 16186)")
prob_panel(ax2, mid_series, "JESUS HARO \u2014 Total Strikes Landed R5 Under Full Fight (Event 16186)")

# bottom panel
ax3.fill_between(BAND_T, OSCAR_LO, OSCAR_HI, color="red", alpha=0.14, lw=1)
ax3.fill_between(BAND_T, HARO_LO, HARO_HI, color="blue", alpha=0.14, lw=1)
to_t, to_v = zip(*TRUTH_OSCAR)
th_t, th_v = zip(*TRUTH_HARO)
po_t, po_v = zip(*PRED_OSCAR)
ph_t, ph_v = zip(*PRED_HARO)
ax3.plot(to_t, to_v, "-", color="red", lw=1.5, alpha=0.75, label="Truth OSCAR COLLAZO: 36")
ax3.plot(th_t, th_v, "-", color="blue", lw=1.5, alpha=0.75, label="Truth JESUS HARO: 9")
ax3.plot(po_t, po_v, ":", color="red", lw=1.5, alpha=0.6, label="Predicted OSCAR COLLAZO: 18.0")
ax3.plot(ph_t, ph_v, ":", color="blue", lw=1.5, alpha=0.6, label="Predicted JESUS HARO: 10.8")
ax3.set_ylim(-4.2, 47.3)
ax3.yaxis.set_major_locator(MultipleLocator(10))
ax3.yaxis.set_minor_locator(MultipleLocator(5))
ax3.grid(axis="y", which="both", alpha=0.3)
ax3.tick_params(which="minor", length=0)
ax3.tick_params(labelsize=7)
ax3.set_ylabel("Count", fontsize=7.5)
ax3.set_xlabel("Fight time (seconds)", fontsize=10)
round_markers(ax3, 47.3)
ax3.legend(loc="upper left", fontsize=7.2)

fig.savefig("out.png", dpi=150)
